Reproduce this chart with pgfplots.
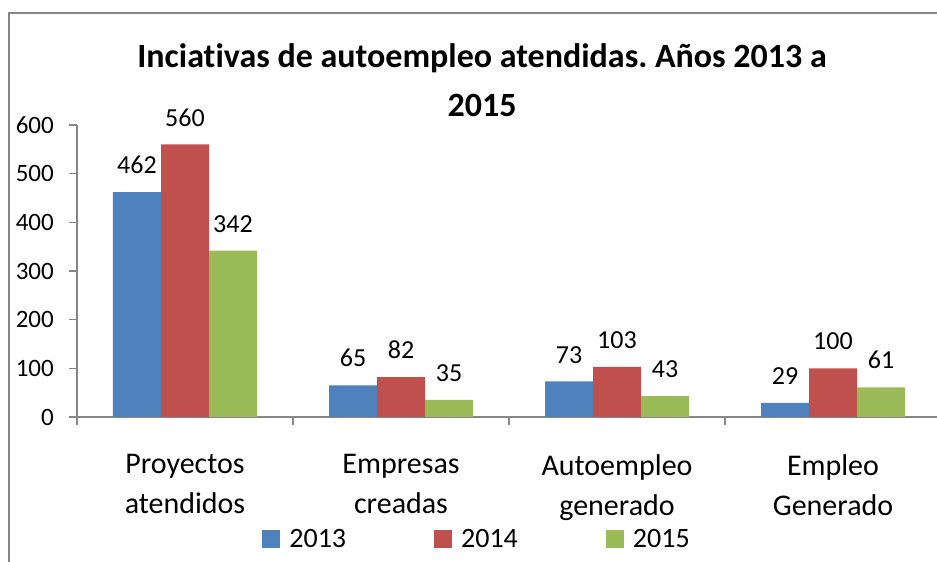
\documentclass[border=0pt]{standalone}
\usepackage{pgfplots}
\pgfplotsset{compat=1.18}
\usepackage{fontspec}
\setmainfont[Ligatures=NoCommon]{Carlito}
\frenchspacing
\definecolor{c1}{HTML}{4F81BD}
\definecolor{c2}{HTML}{C0504D}
\definecolor{c3}{HTML}{9BBB59}
\definecolor{axgray}{HTML}{868686}
\begin{document}
\begin{tikzpicture}
\path[use as bounding box] (0,0) rectangle (937pt,562pt);
\clip (0,0) rectangle (937pt,562pt);
\draw[axgray, line width=2pt] (9pt,-5pt) -- (9pt,549pt) -- (945pt,549pt);
\node[anchor=base, font=\fontsize{34}{40}\selectfont\bfseries] at (482pt,494pt) {Inciativas de autoempleo atendidas. Años 2013 a};
\node[anchor=base, font=\fontsize{34}{40}\selectfont\bfseries] at (482pt,445pt) {2015};
\begin{axis}[
  at={(77pt,145pt)}, anchor=south west,
  scale only axis, width=864pt, height=292pt,
  xmin=-0.5, xmax=3.5, ymin=0, ymax=600,
  ybar=0pt, bar width=48pt,
  axis x line*=bottom, axis y line*=left,
  axis line style={draw=axgray, line width=1.5pt},
  tick style={draw=axgray, line width=1.5pt},
  tick align=outside, major tick length=8pt,
  ytick={0,100,...,600},
  /pgf/number format/assume math mode=true,
  yticklabel style={font=\fontsize{25}{30}\selectfont, inner sep=2pt, xshift=-13pt},
  xtick={-0.5,0.5,1.5,2.5,3.5}, xticklabels={},
  extra x ticks={0,1,2,3},
  extra x tick labels={Proyectos\\atendidos, Empresas\\creadas, Autoempleo\\generado, Empleo\\Generado},
  extra x tick style={major tick length=0pt, tick label style={align=center, font=\fontsize{30}{40}\selectfont, anchor=north, inner sep=0pt, yshift=-37pt}},
  nodes near coords,
  every node near coord/.append style={font=\fontsize{26}{30}\selectfont, anchor=south, inner sep=0pt, yshift=18pt, text=black},
  legend style={at={(0.463,-0.4195)}, anchor=center, draw=none, fill=none,
    legend columns=3, font=\fontsize{28}{34}\selectfont,
    /tikz/every odd column/.append style={column sep=7pt},
    /tikz/every even column/.append style={column sep=86pt},
    legend cell align=left},
  legend image code/.code={\fill[#1] (0pt,-9pt) rectangle (18pt,9pt);},
]
\addplot[fill=c1, draw=none] coordinates {(0,462) (1,65) (2,73) (3,29)};
\addplot[fill=c2, draw=none] coordinates {(0,560) (1,82) (2,103) (3,100)};
\addplot[fill=c3, draw=none] coordinates {(0,342) (1,35) (2,43) (3,61)};
\legend{2013,2014,2015}
\end{axis}
\end{tikzpicture}
\end{document}
